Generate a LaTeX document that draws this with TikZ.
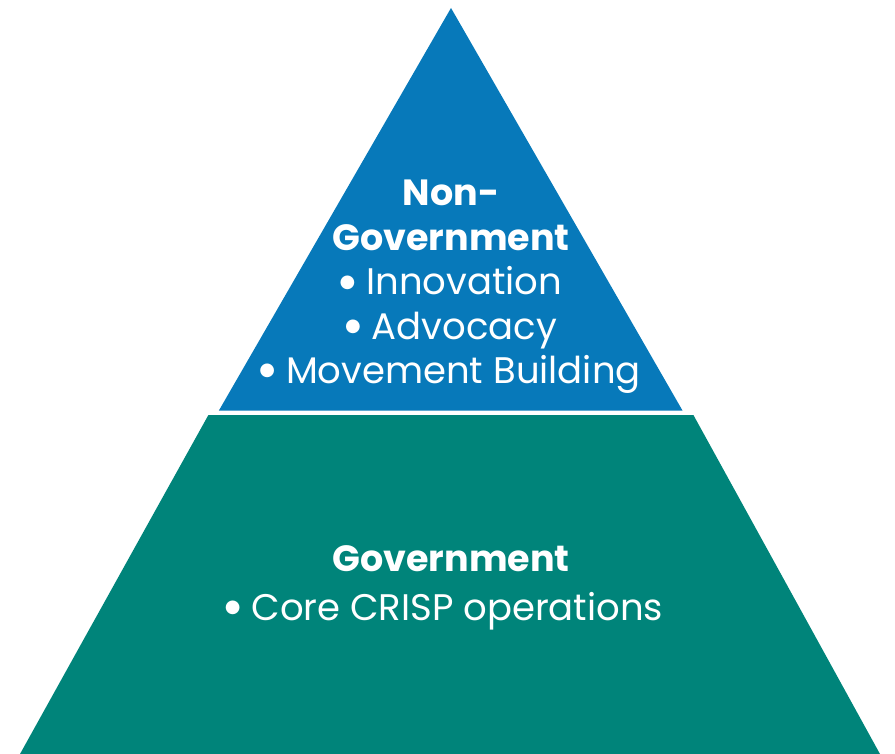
\documentclass[tikz,border=0pt]{standalone}
\usepackage{fontspec}
\setmainfont{Poppins}
\newfontfamily\bulletfont{DejaVu Sans}
\newcommand{\bul}{\raisebox{8pt}{\bulletfont\fontsize{18}{18}\selectfont ●}\hspace{11pt}}
\definecolor{topblue}{HTML}{0779BA}
\definecolor{basegreen}{HTML}{00847A}
\begin{document}
\begin{tikzpicture}[x=1pt,y=-1pt,
  lbl/.style={text=white,anchor=base,inner sep=0pt,font=\fontsize{37}{44}\selectfont},
  hdr/.style={lbl,font=\fontsize{36.5}{44}\selectfont\bfseries}]
\useasboundingbox (0,0) rectangle (895,754);
\fill[topblue] (451,8) -- (682.6,410.7) -- (218.8,410.7) -- cycle;
\fill[basegreen] (208.4,415) -- (693.4,415) -- (880,754) -- (20,754) -- cycle;
\node[hdr] (ng1) at (451,205.7) {Non-};
\node[hdr] (ng2) at (451,251) {Government};
\node[lbl] (inn) at (451,295) {\bul Innovation};
\node[lbl] (adv) at (451,339) {\bul Advocacy};
\node[lbl] (mov) at (450,383) {\bul Movement Building};
\node[hdr] (gov) at (451,571.7) {Government};
\node[lbl] (core) at (444,620) {\bul Core CRISP operations};
\end{tikzpicture}
\end{document}
